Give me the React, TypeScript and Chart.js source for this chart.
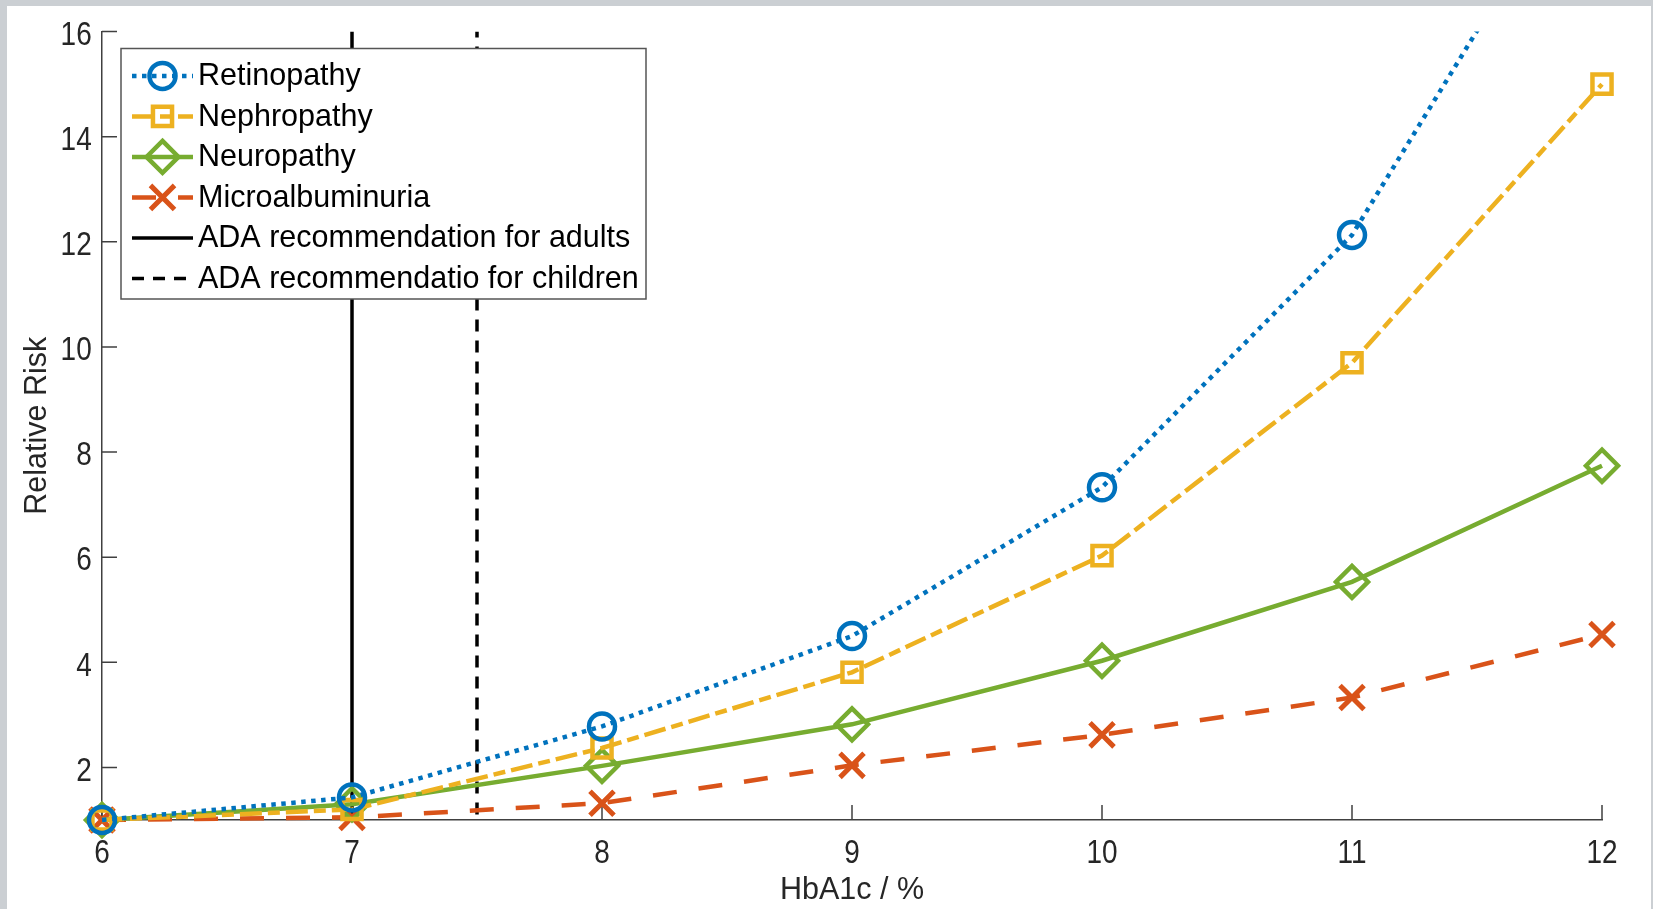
import React, { useEffect, useRef } from 'react';
import { Chart, registerables } from 'chart.js';

Chart.register(...registerables);

// ---- data ----
const hba1c = [6, 7, 8, 9, 10, 11, 12];
const retinopathy = [1.0, 1.43, 2.78, 4.5, 7.33, 12.13, 19.9];
const nephropathy = [1.0, 1.2, 2.37, 3.81, 6.03, 9.7, 15.0];
const neuropathy = [1.0, 1.3, 2.03, 2.82, 4.03, 5.53, 7.74];
const microalbuminuria = [1.0, 1.05, 1.32, 2.04, 2.62, 3.33, 4.53];
const adaAdultsX = 7;
const adaChildrenX = 7.5;
const yLimits = [1, 16];
const xLimits = [6, 12];
const xTickValues = [6, 7, 8, 9, 10, 11, 12];
const yTickValues = [2, 4, 6, 8, 10, 12, 14, 16];
const seriesLabels = [
  'Retinopathy',
  'Nephropathy',
  'Neuropathy',
  'Microalbuminuria',
  'ADA recommendation for adults',
  'ADA recommendatio for children',
];

const FONT = "'Liberation Sans', Arial, Helvetica, sans-serif";
const AXIS_COLOR = '#404040';
const TEXT_COLOR = '#262626';

function pts(ys: number[]) {
  return hba1c.map((x, i) => ({ x, y: ys[i] }));
}

function drawMarker(ctx: CanvasRenderingContext2D, style: string, x: number, y: number, r: number) {
  ctx.beginPath();
  if (style === 'circle') {
    ctx.arc(x, y, r, 0, Math.PI * 2);
  } else if (style === 'rect') {
    const s = r * Math.SQRT1_2;
    ctx.rect(x - s, y - s, 2 * s, 2 * s);
  } else if (style === 'rectRot') {
    ctx.moveTo(x, y - r);
    ctx.lineTo(x + r, y);
    ctx.lineTo(x, y + r);
    ctx.lineTo(x - r, y);
    ctx.closePath();
  } else if (style === 'crossRot') {
    const s = r * Math.SQRT1_2;
    ctx.moveTo(x - s, y - s);
    ctx.lineTo(x + s, y + s);
    ctx.moveTo(x + s, y - s);
    ctx.lineTo(x - s, y + s);
  }
  ctx.stroke();
}

const framePlugin = {
  id: 'frame',
  beforeDraw(chart: any) {
    const { ctx, width, height } = chart;
    ctx.save();
    ctx.fillStyle = '#cbcfd3';
    ctx.fillRect(0, 0, width, height);
    ctx.fillStyle = '#ffffff';
    ctx.fillRect(7, 6, width - 7 - 2, height - 6);
    ctx.restore();
  },
};

const inwardTicksPlugin = {
  id: 'inwardTicks',
  beforeDatasetsDraw(chart: any) {
    const { ctx, chartArea } = chart;
    const xs = chart.scales.x;
    const ys = chart.scales.y;
    ctx.save();
    ctx.strokeStyle = AXIS_COLOR;
    ctx.lineWidth = 1.5;
    ctx.beginPath();
    xs.ticks.forEach((t: any) => {
      const px = xs.getPixelForValue(t.value);
      ctx.moveTo(px, chartArea.bottom);
      ctx.lineTo(px, chartArea.bottom - 15);
    });
    ys.ticks.forEach((t: any) => {
      const py = ys.getPixelForValue(t.value);
      ctx.moveTo(chartArea.left, py);
      ctx.lineTo(chartArea.left + 15, py);
    });
    ctx.stroke();

    // tick labels (slightly condensed, as in the original MATLAB rendering)
    ctx.fillStyle = TEXT_COLOR;
    ctx.font = `32.5px ${FONT}`;
    ctx.textBaseline = 'alphabetic';
    ctx.textAlign = 'center';
    xs.ticks.forEach((t: any) => {
      const px = xs.getPixelForValue(t.value);
      ctx.save();
      ctx.translate(px, chartArea.bottom + 43);
      ctx.scale(0.86, 1);
      ctx.fillText(String(t.value), 0, 0);
      ctx.restore();
    });
    ctx.textAlign = 'right';
    ys.ticks.forEach((t: any) => {
      const py = ys.getPixelForValue(t.value);
      ctx.save();
      ctx.translate(chartArea.left - 10.3, py + 13.2);
      ctx.scale(0.86, 1);
      ctx.fillText(String(t.value), 0, 0);
      ctx.restore();
    });
    ctx.restore();
  },
};

const legendPlugin = {
  id: 'matlabLegend',
  afterDraw(chart: any) {
    const { ctx } = chart;
    const box = { x: 121, y: 48.5, w: 525, h: 250.5 };
    ctx.save();
    ctx.fillStyle = '#ffffff';
    ctx.fillRect(box.x, box.y, box.w, box.h);
    ctx.strokeStyle = '#555555';
    ctx.lineWidth = 1.5;
    ctx.strokeRect(box.x, box.y, box.w, box.h);
    const rowY0 = 75.9;
    const rowStep = 40.5;
    chart.data.datasets.forEach((ds: any, i: number) => {
      const cy = rowY0 + i * rowStep;
      ctx.save();
      ctx.strokeStyle = ds.borderColor;
      ctx.lineWidth = ds.borderWidth;
      ctx.setLineDash(ds.borderDash || []);
      ctx.lineCap = 'butt';
      ctx.beginPath();
      ctx.moveTo(132, cy);
      ctx.lineTo(193, cy);
      ctx.stroke();
      ctx.setLineDash([]);
      if (ds.pointRadius > 0) {
        ctx.lineWidth = ds.pointBorderWidth;
        drawMarker(ctx, ds.pointStyle, 162.5, cy, ds.pointRadius);
      }
      ctx.restore();
      ctx.fillStyle = '#000000';
      ctx.font = `30.5px ${FONT}`;
      ctx.textAlign = 'left';
      ctx.textBaseline = 'middle';
      ctx.fillText(ds.label, 198, cy + 1);
    });
    ctx.restore();
  },
};

export default function App() {
  const canvasRef = useRef<HTMLCanvasElement | null>(null);

  useEffect(() => {
    const canvas = canvasRef.current;
    if (!canvas) return;
    const clip = { left: 30, right: 30, top: 0, bottom: 30 };
    const chart = new Chart(canvas, {
      type: 'line',
      data: {
        datasets: [
          {
            label: seriesLabels[0],
            data: pts(retinopathy),
            borderColor: '#0072BD',
            borderWidth: 4.5,
            borderDash: [4.5, 5.5],
            pointStyle: 'circle',
            pointRadius: 13,
            pointBorderWidth: 4.5,
            pointBorderColor: '#0072BD',
            pointBackgroundColor: 'rgba(0,0,0,0)',
            fill: false,
            tension: 0,
            clip,
          },
          {
            label: seriesLabels[1],
            data: pts(nephropathy),
            borderColor: '#EDB120',
            borderWidth: 4.5,
            borderDash: [22, 6, 12, 6],
            pointStyle: 'rect',
            pointRadius: 13.5,
            pointBorderWidth: 4.5,
            pointBorderColor: '#EDB120',
            pointBackgroundColor: 'rgba(0,0,0,0)',
            fill: false,
            tension: 0,
            clip,
          },
          {
            label: seriesLabels[2],
            data: pts(neuropathy),
            borderColor: '#77AC30',
            borderWidth: 4.5,
            borderDash: [],
            pointStyle: 'rectRot',
            pointRadius: 16,
            pointBorderWidth: 4.5,
            pointBorderColor: '#77AC30',
            pointBackgroundColor: 'rgba(0,0,0,0)',
            fill: false,
            tension: 0,
            clip,
          },
          {
            label: seriesLabels[3],
            data: pts(microalbuminuria),
            borderColor: '#D95319',
            borderWidth: 4.5,
            borderDash: [24, 22],
            pointStyle: 'crossRot',
            pointRadius: 17,
            pointBorderWidth: 5,
            pointBorderColor: '#D95319',
            pointBackgroundColor: 'rgba(0,0,0,0)',
            fill: false,
            tension: 0,
            clip,
          },
          {
            label: seriesLabels[4],
            data: [
              { x: adaAdultsX, y: yLimits[1] },
              { x: adaAdultsX, y: yLimits[0] },
            ],
            borderColor: '#000000',
            borderWidth: 3.5,
            borderDash: [],
            pointRadius: 0,
            pointBorderWidth: 0,
            fill: false,
            clip,
          },
          {
            label: seriesLabels[5],
            data: [
              { x: adaChildrenX, y: yLimits[1] },
              { x: adaChildrenX, y: yLimits[0] },
            ],
            borderColor: '#000000',
            borderWidth: 3.5,
            borderDash: [12, 9],
            borderDashOffset: 6,
            pointRadius: 0,
            pointBorderWidth: 0,
            fill: false,
            clip,
          },
        ] as any,
      },
      options: {
        responsive: false,
        animation: false,
        events: [],
        layout: { padding: { left: 0, right: 51, top: 31.6, bottom: 0 } },
        plugins: {
          legend: { display: false },
          tooltip: { enabled: false },
          title: { display: false },
        },
        scales: {
          x: {
            type: 'linear',
            min: xLimits[0],
            max: xLimits[1],
            afterBuildTicks: (s: any) => {
              s.ticks = xTickValues.map((v) => ({ value: v }));
            },
            afterFit: (s: any) => {
              s.height = 89;
            },
            grid: { display: false, drawTicks: false },
            border: { display: true, color: AXIS_COLOR, width: 1.5 },
            ticks: { display: false },
            title: {
              display: true,
              text: 'HbA1c / %',
              color: TEXT_COLOR,
              font: { family: FONT, size: 30.5 },
              padding: { top: 0, bottom: 0 },
            },
          },
          y: {
            type: 'linear',
            min: yLimits[0],
            max: yLimits[1],
            afterBuildTicks: (s: any) => {
              s.ticks = yTickValues.map((v) => ({ value: v }));
            },
            afterFit: (s: any) => {
              s.width = 102;
            },
            grid: { display: false, drawTicks: false },
            border: { display: true, color: AXIS_COLOR, width: 1.5 },
            ticks: { display: false },
            title: {
              display: true,
              text: 'Relative Risk',
              color: TEXT_COLOR,
              font: { family: FONT, size: 30.5 },
              padding: { top: 19, bottom: 0 },
            },
          },
        },
      } as any,
      plugins: [framePlugin, inwardTicksPlugin, legendPlugin],
    });
    return () => chart.destroy();
  }, []);

  return (
    <div style={{ position: 'absolute', left: 0, top: 0, width: 1653, height: 909 }}>
      <canvas ref={canvasRef} width={1653} height={909} style={{ display: 'block' }} />
    </div>
  );
}
